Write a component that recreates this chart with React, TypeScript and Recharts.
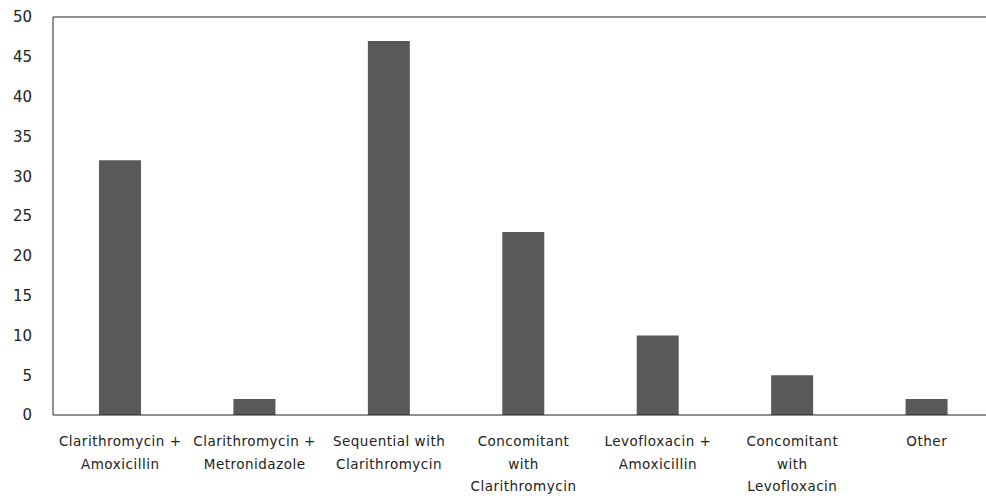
import React from "react";
import { BarChart, Bar, XAxis, YAxis, ReferenceLine } from "recharts";

const regimens = [
  "Clarithromycin +\nAmoxicillin",
  "Clarithromycin +\nMetronidazole",
  "Sequential with\nClarithromycin",
  "Concomitant\nwith\nClarithromycin",
  "Levofloxacin +\nAmoxicillin",
  "Concomitant\nwith\nLevofloxacin",
  "Other",
];
const counts = [32, 2, 47, 23, 10, 5, 2];
const yTicks = [0, 5, 10, 15, 20, 25, 30, 35, 40, 45, 50];

const data = regimens.map((name, i) => ({ name, value: counts[i] }));

const FONT = "'DejaVu Sans', sans-serif";

const XTick = (props: any) => {
  const { x, y, payload } = props;
  const lines = String(payload.value).split("\n");
  return (
    <text
      x={x}
      y={y + 23}
      textAnchor="middle"
      fill="#222"
      fontSize={13.5}
      letterSpacing={0.5}
      fontFamily={FONT}
    >
      {lines.map((l, i) => (
        <tspan key={i} x={x} dy={i === 0 ? 0 : 22.5}>
          {l}
        </tspan>
      ))}
    </text>
  );
};

export default function App() {
  return (
    <div
      style={{
        position: "absolute",
        left: 0,
        top: 0,
        width: 986,
        height: 498,
        overflow: "hidden",
        background: "#fff",
      }}
    >
      <BarChart
        width={1000}
        height={498}
        data={data}
        margin={{ top: 17, right: 6, bottom: 0, left: 0 }}
        barSize={42}
      >
        <XAxis
          dataKey="name"
          interval={0}
          tickLine={false}
          axisLine={{ stroke: "#222" }}
          height={83}
          tick={<XTick />}
        />
        <YAxis
          width={53}
          domain={[0, 50]}
          ticks={yTicks}
          tickLine={false}
          axisLine={{ stroke: "#222" }}
          tickMargin={15}
          tick={{ fill: "#222", fontSize: 15, fontFamily: FONT }}
        />
        <ReferenceLine y={50} stroke="#222" />
        <Bar dataKey="value" fill="#595959" isAnimationActive={false} />
      </BarChart>
    </div>
  );
}
